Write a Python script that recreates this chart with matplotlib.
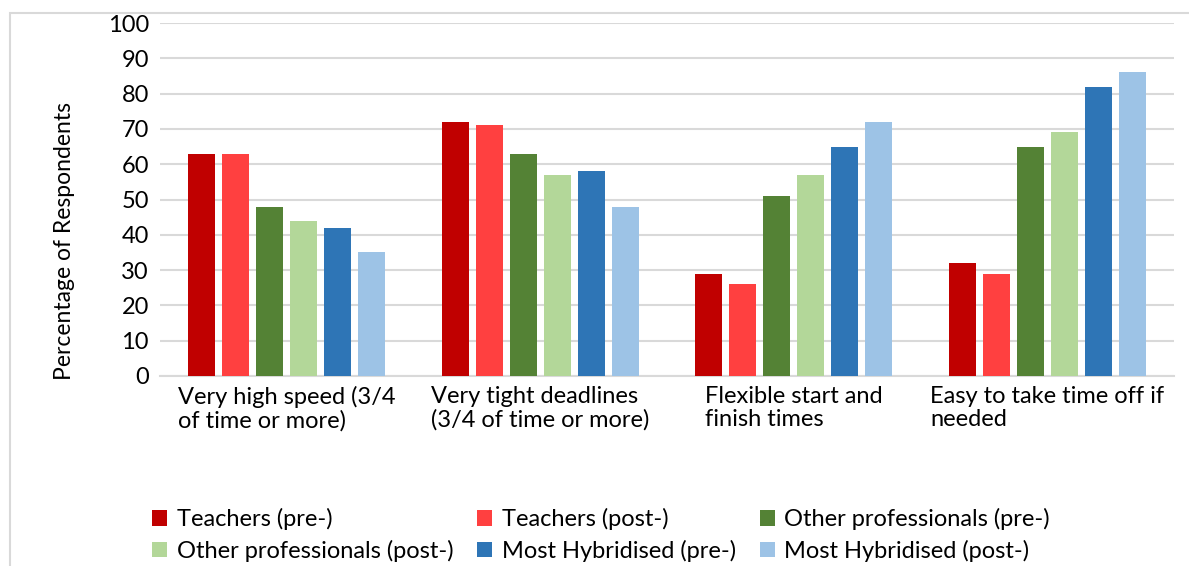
import matplotlib.pyplot as plt
import numpy as np
from matplotlib.patches import Rectangle

plt.rcParams['font.family'] = ['Lato', 'DejaVu Sans']

categories = ['Very high speed (3/4\nof time or more)',
              'Very tight deadlines\n(3/4 of time or more)',
              'Flexible start and\nfinish times',
              'Easy to take time off if\nneeded']

series_names = ['Teachers (pre-)', 'Teachers (post-)', 'Other professionals (pre-)',
                'Other professionals (post-)', 'Most Hybridised (pre-)', 'Most Hybridised (post-)']

teachers_pre = [63, 72, 29, 32]
teachers_post = [63, 71, 26, 29]
other_pre = [48, 63, 51, 65]
other_post = [44, 57, 57, 69]
hybrid_pre = [42, 58, 65, 82]
hybrid_post = [35, 48, 72, 86]

colors = ['#C00000', '#FF4040', '#548235', '#B3D799', '#2E75B6', '#9DC3E6']

series = [teachers_pre, teachers_post, other_pre, other_post, hybrid_pre, hybrid_post]

fig = plt.figure(figsize=(11.89, 5.66), dpi=100)
ax = fig.add_axes([160 / 1189, 1 - 376 / 566, 1014 / 1189, 353 / 566])

# chart frame (runs off the right and bottom edges)
fig.patches.append(Rectangle((10 / 1189, -0.1), 1.2, 1 - 13 / 566 + 0.1,
                             transform=fig.transFigure, fill=False,
                             edgecolor='#D9D9D9', linewidth=1.5))

x = np.arange(len(categories))
step = 0.134
width = 0.107
handles = []
for i, (vals, name, col) in enumerate(zip(series, series_names, colors)):
    offs = (i - 2.5) * step
    b = ax.bar(x + offs, vals, width=width, color=col, label=name, zorder=3)
    handles.append(b)

ax.set_xlim(-0.5, len(categories) - 0.5)
ax.set_ylim(0, 100)
ax.set_yticks(range(0, 101, 10))
ax.yaxis.grid(True, color='#D9D9D9', linewidth=1.5, zorder=0)
ax.set_axisbelow(True)
for s in ['top', 'right', 'left']:
    ax.spines[s].set_visible(False)
ax.spines['bottom'].set_color('#D9D9D9')
ax.spines['bottom'].set_linewidth(1.5)
ax.tick_params(axis='both', length=0, labelsize=17, colors='black')
ax.tick_params(axis='y', pad=8)

ax.set_xticks(x)
ax.set_xticklabels(categories, multialignment='left', linespacing=1.15)
ax.tick_params(axis='x', pad=7)

fig.text(65 / 1189, 1 - 241 / 566, 'Percentage of Respondents', rotation=90,
         ha='center', va='center', fontsize=16.5)

# legend laid out row by row
order = [0, 3, 1, 4, 2, 5]
leg = fig.legend([handles[i] for i in order], [series_names[i] for i in order],
                 ncol=3, loc='center', bbox_to_anchor=(601 / 1189, 1 - 535 / 566),
                 frameon=False, fontsize=17, handlelength=0.65, handleheight=0.65,
                 handletextpad=0.4, columnspacing=1.0, labelspacing=0.4)

fig.savefig('out.png', dpi=100)
